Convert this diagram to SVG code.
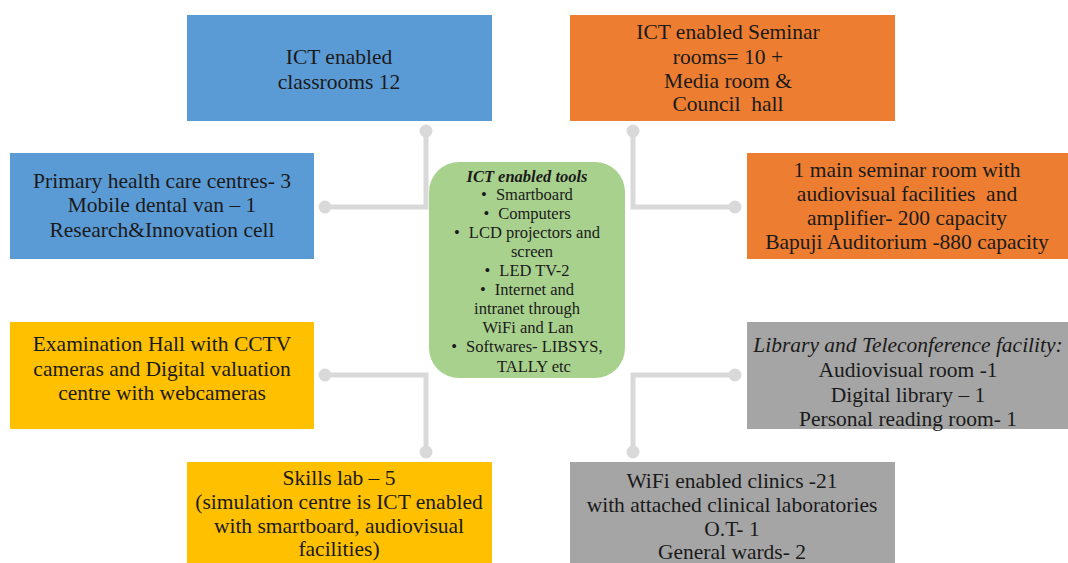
<svg xmlns="http://www.w3.org/2000/svg" width="1068" height="563" viewBox="0 0 1068 563">
  <style>
    .box { stroke: none; }
    .blue { fill: #5b9bd5; }
    .orange { fill: #ed7d31; }
    .yellow { fill: #ffc000; }
    .gray { fill: #a5a5a5; }
    .green { fill: #a9d18e; }
    .lbl { font-family: "Liberation Serif", "Times New Roman", serif; font-size: 21.5px; fill: #1a1a1a; text-anchor: middle; }
    .it { font-style: italic; }
    .tool { font-family: "Liberation Serif", "Times New Roman", serif; font-size: 16.5px; fill: #1a1a1a; text-anchor: middle; }
    .ttl { font-weight: bold; font-style: italic; font-size: 16.5px; }
    .wire { fill: none; stroke: #d9d9d9; stroke-width: 5; stroke-linejoin: miter; }
    .dot { fill: #d9d9d9; }
  </style>

  <rect width="1068" height="563" fill="#ffffff"/>

  <!-- connectors from the central tools panel -->
  <g id="connectors">
    <polyline class="wire" points="426,131 426,207 325,207"/>
    <circle class="dot" cx="426" cy="131" r="6.5"/>
    <circle class="dot" cx="325" cy="207" r="6.5"/>

    <polyline class="wire" points="633,131 633,207 735,207"/>
    <circle class="dot" cx="633" cy="131" r="6.5"/>
    <circle class="dot" cx="735" cy="207" r="6.5"/>

    <polyline class="wire" points="325,375 426,375 426,452"/>
    <circle class="dot" cx="325" cy="375" r="6.5"/>
    <circle class="dot" cx="426" cy="452" r="6.5"/>

    <polyline class="wire" points="735,375 633,375 633,452"/>
    <circle class="dot" cx="735" cy="375" r="6.5"/>
    <circle class="dot" cx="633" cy="452" r="6.5"/>
  </g>

  <g id="classrooms">
    <rect class="box blue" x="187" y="15" width="305" height="106"/>
    <text class="lbl" x="339" y="64">ICT enabled</text>
    <text class="lbl" x="339" y="89">classrooms 12</text>
  </g>

  <g id="seminar-rooms">
    <rect class="box orange" x="570" y="15" width="325" height="106"/>
    <text class="lbl" x="728" y="39">ICT enabled Seminar</text>
    <text class="lbl" x="728" y="64">rooms= 10 +</text>
    <text class="lbl" x="728" y="88">Media room &amp;</text>
    <text class="lbl" x="728" y="111" xml:space="preserve">Council  hall</text>
  </g>

  <g id="health-centres">
    <rect class="box blue" x="10" y="153" width="304" height="106"/>
    <text class="lbl" x="162" y="188">Primary health care centres- 3</text>
    <text class="lbl" x="162" y="212">Mobile dental van – 1</text>
    <text class="lbl" x="162" y="237">Research&amp;Innovation cell</text>
  </g>

  <g id="main-seminar">
    <rect class="box orange" x="747" y="153" width="321" height="106"/>
    <text class="lbl" x="907" y="177">1 main seminar room with</text>
    <text class="lbl" x="907" y="201" xml:space="preserve">audiovisual facilities  and</text>
    <text class="lbl" x="907" y="225">amplifier- 200 capacity</text>
    <text class="lbl" x="907" y="249">Bapuji Auditorium -880 capacity</text>
  </g>

  <g id="examination-hall">
    <rect class="box yellow" x="10" y="322" width="304" height="107"/>
    <text class="lbl" x="162" y="351">Examination Hall with CCTV</text>
    <text class="lbl" x="162" y="376">cameras and Digital valuation</text>
    <text class="lbl" x="162" y="400">centre with webcameras</text>
  </g>

  <g id="library">
    <rect class="box gray" x="747" y="322" width="321" height="107"/>
    <text class="lbl it" x="908" y="352">Library and Teleconference facility:</text>
    <text class="lbl" x="908" y="377">Audiovisual room -1</text>
    <text class="lbl" x="908" y="402">Digital library – 1</text>
    <text class="lbl" x="908" y="426">Personal reading room- 1</text>
  </g>

  <g id="skills-lab">
    <rect class="box yellow" x="187" y="462" width="305" height="101"/>
    <text class="lbl" x="339" y="485">Skills lab – 5</text>
    <text class="lbl" x="339" y="509">(simulation centre is ICT enabled</text>
    <text class="lbl" x="339" y="533">with smartboard, audiovisual</text>
    <text class="lbl" x="339" y="556">facilities)</text>
  </g>

  <g id="clinics">
    <rect class="box gray" x="570" y="462" width="325" height="101"/>
    <text class="lbl" x="732" y="488">WiFi enabled clinics -21</text>
    <text class="lbl" x="732" y="512">with attached clinical laboratories</text>
    <text class="lbl" x="732" y="536">O.T- 1</text>
    <text class="lbl" x="732" y="559">General wards- 2</text>
  </g>

  <g id="ict-tools">
    <rect class="box green" x="429" y="162" width="196" height="216" rx="30" ry="30"/>
    <text class="tool ttl" x="527" y="182">ICT enabled tools</text>
    <text class="tool" x="527" y="200"><tspan>•</tspan><tspan dx="9">Smartboard</tspan></text>
    <text class="tool" x="527" y="219"><tspan>•</tspan><tspan dx="9">Computers</tspan></text>
    <text class="tool" x="527" y="238"><tspan>•</tspan><tspan dx="9">LCD projectors and</tspan></text>
    <text class="tool" x="532" y="257">screen</text>
    <text class="tool" x="527" y="276"><tspan>•</tspan><tspan dx="9">LED TV-2</tspan></text>
    <text class="tool" x="527" y="295"><tspan>•</tspan><tspan dx="9">Internet and</tspan></text>
    <text class="tool" x="527" y="314">intranet through</text>
    <text class="tool" x="528" y="333">WiFi and Lan</text>
    <text class="tool" x="527" y="352"><tspan>•</tspan><tspan dx="9">Softwares- LIBSYS,</tspan></text>
    <text class="tool" x="534" y="372">TALLY etc</text>
  </g>
</svg>
